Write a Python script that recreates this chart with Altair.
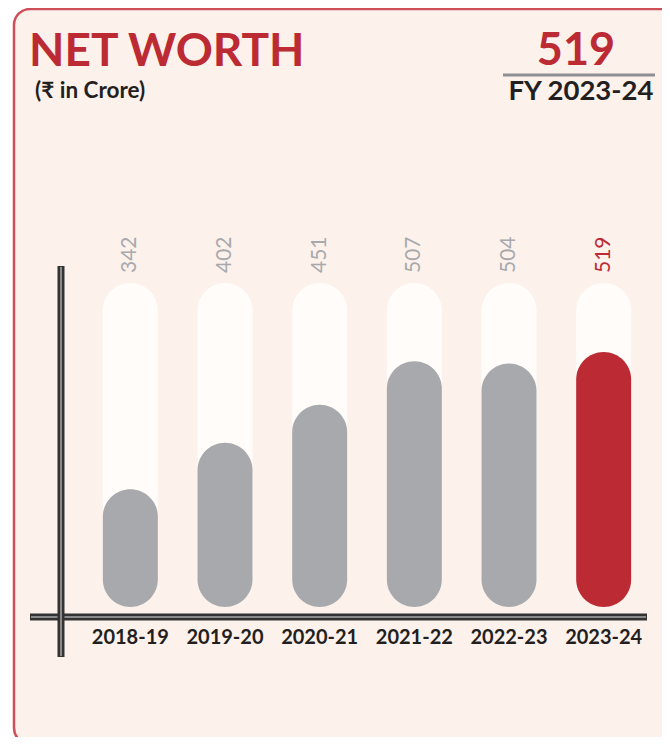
import altair as alt
import pandas as pd

# ---- data ----
years = ["2018-19", "2019-20", "2020-21", "2021-22", "2022-23", "2023-24"]
values = [342, 402, 451, 507, 504, 519]
highlight = ["no", "no", "no", "no", "no", "yes"]

TITLE = "NET WORTH"
SUBTITLE = "(₹ in Crore)"
KPI_VALUE = "519"
KPI_LABEL = "FY 2023-24"

# scale ends (bar baseline and full-track top, in data units)
BASE = 190
TRACK = 608

df = pd.DataFrame({"year": years, "value": values, "hl": highlight})
df["base"] = BASE
df["track"] = TRACK

# ---- style ----
W, H = 654, 729
RED = "#bc2a33"
GRAY = "#a7a9ac"
DARK = "#231f20"
PANEL = "#fdf1ec"
BORDER = "#cf4f59"
TRACK_FILL = "#fffcfa"
FONT = "Lato"

xs = alt.Scale(domain=years, range=[75, 643], paddingInner=0, paddingOuter=0)
ys = alt.Scale(domain=[BASE, TRACK], range=[599, 275], nice=False, zero=False)
cs = alt.Scale(domain=["no", "yes"], range=[GRAY, RED])
X = alt.X("year:N", scale=xs, axis=None, sort=years)

one = alt.Data(values=[{}])

panel = alt.Chart(one).mark_rect(
    cornerRadius=16, fill=PANEL, stroke=BORDER, strokeWidth=2.5
).encode(x=alt.value(6), x2=alt.value(720), y=alt.value(1), y2=alt.value(736))

title = alt.Chart(one).mark_text(
    text=TITLE, font=FONT, fontWeight="bold", fontSize=46, color=RED,
    align="left", baseline="alphabetic"
).encode(x=alt.value(21), y=alt.value(58))

subtitle = alt.Chart(one).mark_text(
    text=SUBTITLE, font=FONT, fontWeight="bold", fontSize=22.5, color=DARK,
    align="left", baseline="alphabetic"
).encode(x=alt.value(27), y=alt.value(90))

kpi = alt.Chart(one).mark_text(
    text=KPI_VALUE, font=FONT, fontWeight="bold", fontSize=45, color=RED,
    align="center", baseline="alphabetic"
).encode(x=alt.value(568), y=alt.value(57))

kpi_line = alt.Chart(one).mark_rule(color="#8d8f91", strokeWidth=3).encode(
    x=alt.value(495), x2=alt.value(647), y=alt.value(67)
)

kpi_label = alt.Chart(one).mark_text(
    text=KPI_LABEL, font=FONT, fontWeight="bold", fontSize=27.5, color=DARK,
    align="center", baseline="alphabetic"
).encode(x=alt.value(573), y=alt.value(92))

base = alt.Chart(df)

track = base.mark_bar(width=55, cornerRadius=27.5, color=TRACK_FILL).encode(
    x=X, y=alt.Y("track:Q", scale=ys, axis=None), y2="base:Q"
)

bars = base.mark_bar(width=55, cornerRadius=27.5).encode(
    x=X,
    y=alt.Y("value:Q", scale=ys, axis=None),
    y2="base:Q",
    color=alt.Color("hl:N", scale=cs, legend=None),
)

vlabels = base.mark_text(
    angle=270, align="left", baseline="middle", dx=10, font=FONT, fontSize=21
).encode(
    x=X,
    y=alt.Y("track:Q", scale=ys, axis=None),
    text="value:Q",
    color=alt.Color("hl:N", scale=cs, legend=None),
)

xlabels = base.mark_text(
    font=FONT, fontWeight="bold", fontSize=20, color=DARK, baseline="alphabetic"
).encode(x=X, y=alt.value(636), text="year:N")

v_axis_dark = alt.Chart(one).mark_rule(color="#333333", strokeWidth=7).encode(
    x=alt.value(53), y=alt.value(258), y2=alt.value(649)
)
v_axis_light = alt.Chart(one).mark_rule(color="#8a8a8a", strokeWidth=2).encode(
    x=alt.value(53), y=alt.value(259), y2=alt.value(648)
)
h_axis_dark = alt.Chart(one).mark_rule(color="#333333", strokeWidth=7).encode(
    x=alt.value(22), x2=alt.value(639), y=alt.value(609)
)
h_axis_light = alt.Chart(one).mark_rule(color="#8a8a8a", strokeWidth=2).encode(
    x=alt.value(23), x2=alt.value(638), y=alt.value(609)
)

chart = alt.layer(
    panel, title, subtitle, kpi, kpi_line, kpi_label,
    track, bars, vlabels, xlabels,
    h_axis_dark, h_axis_light, v_axis_dark, v_axis_light,
).properties(
    width=W, height=H, autosize=alt.AutoSizeParams(type="none"), padding=0,
    background="white",
).configure_view(stroke=None)

chart.save("out.html", embed_options={"renderer": "svg", "actions": False})
